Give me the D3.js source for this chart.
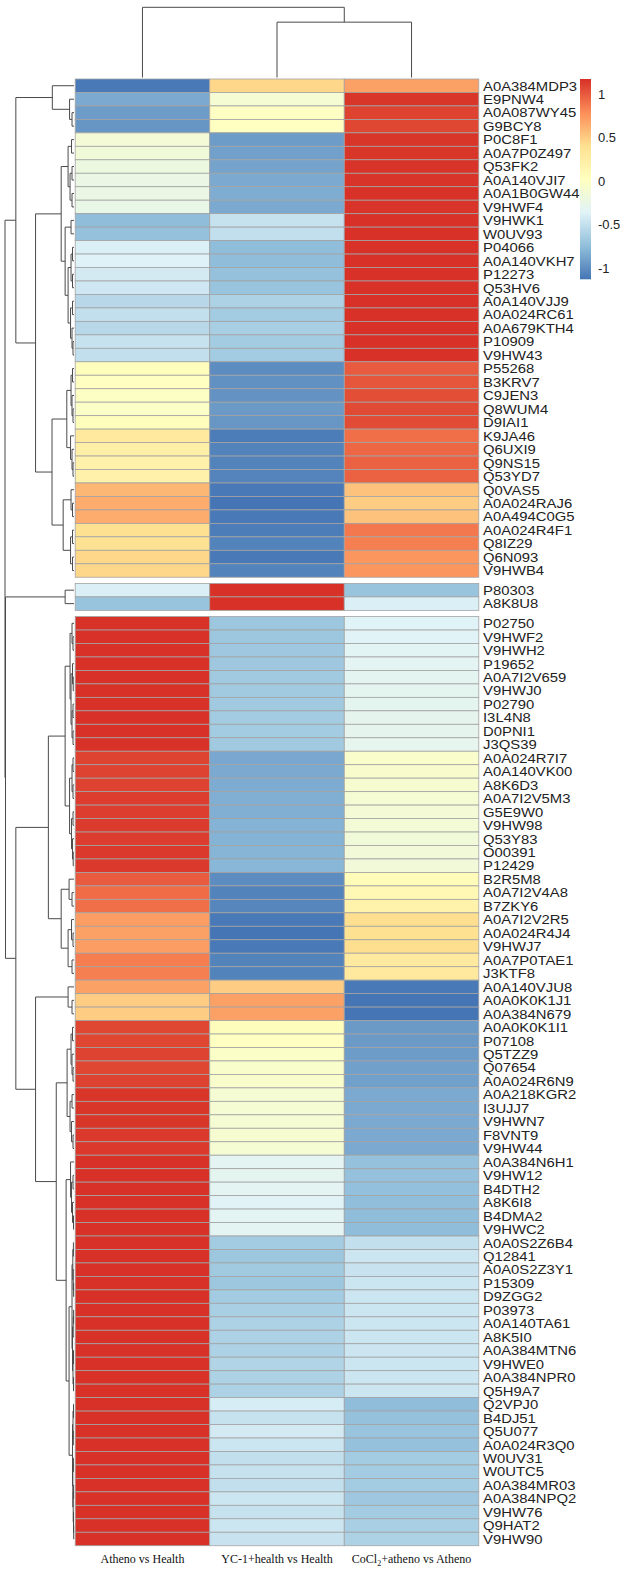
<!DOCTYPE html>
<html><head><meta charset="utf-8">
<script src="https://cdn.jsdelivr.net/npm/d3@7"></script>
<style>body{margin:0;background:#fff} svg{display:block}</style>
</head><body>
<svg id="c" width="628" height="1573"></svg>
<script>
// ---------- data ----------
const columns = ["Atheno vs Health", "YC-1+health vs Health", "CoCl2+atheno vs Atheno"];
const rowLabels = [
"A0A384MDP3","E9PNW4","A0A087WY45","G9BCY8","P0C8F1","A0A7P0Z497","Q53FK2","A0A140VJI7","A0A1B0GW44","V9HWF4",
"V9HWK1","W0UV93","P04066","A0A140VKH7","P12273","Q53HV6","A0A140VJJ9","A0A024RC61","A0A679KTH4","P10909",
"V9HW43","P55268","B3KRV7","C9JEN3","Q8WUM4","D9IAI1","K9JA46","Q6UXI9","Q9NS15","Q53YD7",
"Q0VAS5","A0A024RAJ6","A0A494C0G5","A0A024R4F1","Q8IZ29","Q6N093","V9HWB4",
"P80303","A8K8U8",
"P02750","V9HWF2","V9HWH2","P19652","A0A7I2V659","V9HWJ0","P02790","I3L4N8","D0PNI1","J3QS39",
"A0A024R7I7","A0A140VK00","A8K6D3","A0A7I2V5M3","G5E9W0","V9HW98","Q53Y83","O00391","P12429",
"B2R5M8","A0A7I2V4A8","B7ZKY6","A0A7I2V2R5","A0A024R4J4","V9HWJ7","A0A7P0TAE1","J3KTF8",
"A0A140VJU8","A0A0K0K1J1","A0A384N679",
"A0A0K0K1I1","P07108","Q5TZZ9","Q07654","A0A024R6N9","A0A218KGR2","I3UJJ7","V9HWN7","F8VNT9","V9HW44",
"A0A384N6H1","V9HW12","B4DTH2","A8K6I8","B4DMA2","V9HWC2",
"A0A0S2Z6B4","Q12841","A0A0S2Z3Y1","P15309","D9ZGG2","P03973","A0A140TA61","A8K5I0","A0A384MTN6","V9HWE0","A0A384NPR0","Q5H9A7",
"Q2VPJ0","B4DJ51","Q5U077","A0A024R3Q0","W0UV31","W0UTC5","A0A384MR03","A0A384NPQ2","V9HW76","Q9HAT2","V9HW90"
];
const rowGroupSizes = [37, 2, 69];

const athenoVsHealth = [
-1.1,-0.85,-0.92,-0.95,-0.12,-0.14,-0.2,-0.22,-0.22,-0.24,
-0.75,-0.72,-0.38,-0.36,-0.42,-0.44,-0.55,-0.5,-0.55,-0.48,
-0.5,0.05,0.02,0.0,-0.02,0.05,0.3,0.22,0.2,0.2,
0.6,0.65,0.65,0.4,0.38,0.45,0.45,
-0.38,-0.7,
1.17,1.17,1.17,1.17,1.17,1.17,1.17,1.17,1.17,1.17,
1.1,1.1,1.1,1.12,1.12,1.13,1.12,1.14,1.14,
1.0,0.93,0.92,0.72,0.7,0.72,0.86,0.85,
0.7,0.5,0.5,
1.08,1.08,1.1,1.08,1.1,1.15,1.15,1.15,1.14,1.14,
1.17,1.17,1.17,1.17,1.17,1.17,
1.17,1.17,1.17,1.17,1.17,1.17,1.17,1.17,1.17,1.17,1.17,1.17,
1.17,1.17,1.17,1.17,1.17,1.17,1.17,1.17,1.17,1.17,1.17
];
const yc1VsHealth = [
0.45,-0.1,0.0,0.02,-0.92,-0.9,-0.88,-0.85,-0.83,-0.85,
-0.48,-0.5,-0.75,-0.75,-0.72,-0.7,-0.6,-0.65,-0.62,-0.65,
-0.65,-1.0,-0.98,-0.97,-0.93,-0.95,-1.08,-1.05,-1.05,-1.04,
-1.1,-1.12,-1.1,-1.08,-1.05,-1.1,-1.05,
1.17,1.17,
-0.68,-0.68,-0.67,-0.67,-0.66,-0.66,-0.66,-0.65,-0.65,-0.66,
-0.86,-0.85,-0.84,-0.82,-0.82,-0.8,-0.8,-0.79,-0.78,
-1.0,-1.05,-1.03,-1.1,-1.12,-1.1,-1.05,-1.05,
0.5,0.7,0.7,
0.05,0.02,-0.02,-0.05,-0.05,-0.1,-0.1,-0.1,-0.08,-0.1,
-0.32,-0.3,-0.32,-0.34,-0.32,-0.32,
-0.65,-0.68,-0.66,-0.68,-0.65,-0.62,-0.6,-0.6,-0.6,-0.58,-0.6,-0.6,
-0.4,-0.48,-0.42,-0.45,-0.5,-0.48,-0.5,-0.45,-0.48,-0.45,-0.47
];
const cocl2VsAtheno = [
0.7,1.15,1.1,1.08,1.15,1.15,1.16,1.16,1.17,1.16,
1.17,1.17,1.17,1.17,1.17,1.17,1.17,1.17,1.17,1.17,
1.17,1.0,1.02,1.05,1.07,1.06,0.92,0.95,0.97,0.97,
0.55,0.5,0.55,0.88,0.85,0.75,0.75,
-0.7,-0.38,
-0.35,-0.34,-0.33,-0.32,-0.31,-0.3,-0.3,-0.29,-0.29,-0.28,
-0.05,-0.06,-0.08,-0.1,-0.12,-0.13,-0.14,-0.15,-0.15,
0.08,0.12,0.18,0.42,0.4,0.42,0.3,0.3,
-1.1,-1.12,-1.12,
-0.93,-0.93,-0.92,-0.9,-0.9,-0.85,-0.85,-0.85,-0.85,-0.85,
-0.72,-0.72,-0.73,-0.74,-0.75,-0.75,
-0.5,-0.45,-0.47,-0.45,-0.45,-0.45,-0.45,-0.45,-0.45,-0.45,-0.45,-0.45,
-0.75,-0.72,-0.7,-0.72,-0.65,-0.65,-0.65,-0.67,-0.65,-0.62,-0.6
];
const seriesValues = [athenoVsHealth, yc1VsHealth, cocl2VsAtheno];

const legendTicks = [1, 0.5, 0, -0.5, -1];
const legendTickLabels = ["1", "0.5", "0", "-0.5", "-1"];
const valueRange = [-1.12, 1.175];
const colorStops = ["#4575B4","#91BFDB","#E0F3F8","#FFFFBF","#FEE090","#FC8D59","#D73027"];

// dendrograms: [height, left, right]; leaves are row / column indices
const colTree = [2.6, 0, [2.05, 1, 2]];
const group1Tree = [5.9,
  [2.2, 0, [0.45, 1, [0.2, 2, 3]]],
  [3.9,
    [1.3,
      [0.6, [0.25, 4, 5], [0.4, [0.2, 6, 7], [0.2, 8, 9]]],
      [0.9, [0.3, 10, 11], [0.6, [0.3, [0.15, 12, 13], [0.15, 14, 15]], [0.35, [0.15, 16, 17], [0.2, 18, [0.1, 19, 20]]]]]],
    [2.23,
      [0.73, [0.3, [0.15, 21, 22], [0.2, 23, [0.1, 24, 25]]], [0.35, 26, [0.2, 27, [0.1, 28, 29]]]],
      [1.1, [0.3, 30, [0.15, 31, 32]], [0.35, [0.15, 33, 34], [0.15, 35, 36]]]]]];
const group2Tree = [0.9, 37, 38];
const group3Tree = [5.9,
  [2.6,
    [0.9,
      [0.4, [0.2, 39, [0.1, 40, 41]], [0.3, [0.15, 42, [0.08, 43, 44]], [0.2, [0.1, 45, 46], [0.1, 47, 48]]]],
      [0.45, [0.2, [0.1, 49, 50], [0.1, 51, 52]], [0.25, [0.1, 53, 54], [0.15, 55, [0.08, 56, 57]]]]],
    [1.3, [0.5, 58, [0.2, 59, 60]], [0.6, [0.25, 61, [0.1, 62, 63]], [0.2, 64, 65]]]],
  [3.9,
    [0.6, 66, [0.2, 67, 68]],
    [1.8,
      [0.7, [0.3, [0.15, 69, 70], [0.2, 71, [0.1, 72, 73]]], [0.4, [0.2, 74, 75], [0.25, 76, [0.1, 77, 78]]]],
      [0.8,
        [0.35, 79, [0.25, [0.1, 80, 81], [0.15, 82, [0.05, 83, 84]]]],
        [0.5,
          [0.2, [0.12, [0.06, 85, 86], [0.08, 87, [0.04, 88, 89]]], [0.15, [0.08, [0.04, 90, 91], 92], [0.1, [0.05, 93, 94], [0.05, 95, 96]]]],
          [0.15, [0.1, [0.05, 97, 98], [0.07, 99, 100]], [0.12, [0.06, 101, 102], [0.08, [0.04, 103, 104], [0.05, 105, [0.03, 106, 107]]]]]]]]]];
const rowTree = [7.0, group1Tree, [6.95, group2Tree, group3Tree]];

// ---------- drawing ----------
const svg = d3.select("#c");
const nRows = rowLabels.length;
const heatLeft = 75.2, heatRight = 478.8, heatTop = 79, rowH = 13.466, gap = 6.2;

const x = d3.scaleBand().domain(d3.range(columns.length)).range([heatLeft, heatRight]);
const yIdx = d3.scaleLinear().domain([0, nRows]).range([0, nRows * rowH]);
const groupStarts = rowGroupSizes.map((s, i) => d3.sum(rowGroupSizes.slice(0, i)));
const groupOf = i => d3.bisectRight(groupStarts, i) - 1;
const rowY = i => heatTop + yIdx(i) + gap * groupOf(i);
const rowC = i => rowY(i) + rowH / 2;

const lo = valueRange[0], hi = valueRange[1];
const color = d3.scaleLinear()
  .domain(colorStops.map((c, i) => lo + i * (hi - lo) / (colorStops.length - 1)))
  .range(colorStops).interpolate(d3.interpolateRgb).clamp(true);

// cells
const cells = [];
seriesValues.forEach((vals, c) => vals.forEach((v, r) => cells.push({c, r, v})));
svg.append("g").selectAll("rect").data(cells).join("rect")
  .attr("x", d => x(d.c)).attr("y", d => rowY(d.r))
  .attr("width", x.bandwidth()).attr("height", rowH)
  .attr("fill", d => color(d.v))
  .attr("stroke", "#a3a3a3").attr("stroke-width", 0.8);

// row labels
svg.append("g").selectAll("text").data(rowLabels).join("text")
  .attr("transform", (d, i) => `translate(483,${rowC(i) + 4.8}) scale(1.1,1)`)
  .attr("font-family", "'Liberation Sans', Arial, sans-serif")
  .attr("font-size", 13.5).attr("fill", "#222")
  .text(d => d);

// column labels
const colLab = svg.append("g").attr("font-family", "'Liberation Serif', 'Times New Roman', serif")
  .attr("font-size", 12).attr("fill", "#111").attr("text-anchor", "middle");
columns.forEach((name, i) => {
  const t = colLab.append("text").attr("x", x(i) + x.bandwidth() / 2).attr("y", 1563);
  if (name.startsWith("CoCl2")) {
    t.append("tspan").text("CoCl");
    t.append("tspan").attr("font-size", 8).attr("dy", 2.5).text("2");
    t.append("tspan").attr("dy", -2.5).text(name.slice(5));
  } else t.text(name);
});

// row dendrogram
const hx = d3.scaleLinear().domain([0, rowTree[0]]).range([74, 5]);
const rowPaths = [];
function walkRow(n) {
  if (typeof n === "number") return {y: rowC(n), h: 0};
  const a = walkRow(n[1]), b = walkRow(n[2]);
  rowPaths.push(`M${hx(a.h)},${a.y}H${hx(n[0])}V${b.y}H${hx(b.h)}`);
  return {y: (a.y + b.y) / 2, h: n[0]};
}
walkRow(rowTree);
svg.append("g").selectAll("path").data(rowPaths).join("path")
  .attr("d", d => d).attr("fill", "none").attr("stroke", "#4a4a4a").attr("stroke-width", 1);

// column dendrogram
const hy = d3.scaleLinear().domain([0, colTree[0]]).range([77.5, 7.3]);
const colPaths = [];
function walkCol(n) {
  if (typeof n === "number") return {x: x(n) + x.bandwidth() / 2, h: 0};
  const a = walkCol(n[1]), b = walkCol(n[2]);
  colPaths.push(`M${a.x},${hy(a.h)}V${hy(n[0])}H${b.x}V${hy(b.h)}`);
  return {x: (a.x + b.x) / 2, h: n[0]};
}
walkCol(colTree);
svg.append("g").selectAll("path").data(colPaths).join("path")
  .attr("d", d => d).attr("fill", "none").attr("stroke", "#4a4a4a").attr("stroke-width", 1);

// legend
const ly = d3.scaleLinear().domain([lo, hi]).range([279.3, 79]);
const grad = svg.append("defs").append("linearGradient").attr("id", "lg")
  .attr("x1", 0).attr("y1", 1).attr("x2", 0).attr("y2", 0);
color.domain().forEach((d, i) => grad.append("stop")
  .attr("offset", (d - lo) / (hi - lo)).attr("stop-color", colorStops[i]));
svg.append("rect").attr("x", 580).attr("y", ly(hi)).attr("width", 11)
  .attr("height", ly(lo) - ly(hi)).attr("fill", "url(#lg)");
svg.append("g").selectAll("text").data(legendTicks).join("text")
  .attr("transform", d => `translate(598,${ly(d) + 4.3}) scale(1.08,1)`)
  .attr("font-family", "'Liberation Sans', Arial, sans-serif")
  .attr("font-size", 12).attr("fill", "#222")
  .text((d, i) => legendTickLabels[i]);
</script>
</body></html>
